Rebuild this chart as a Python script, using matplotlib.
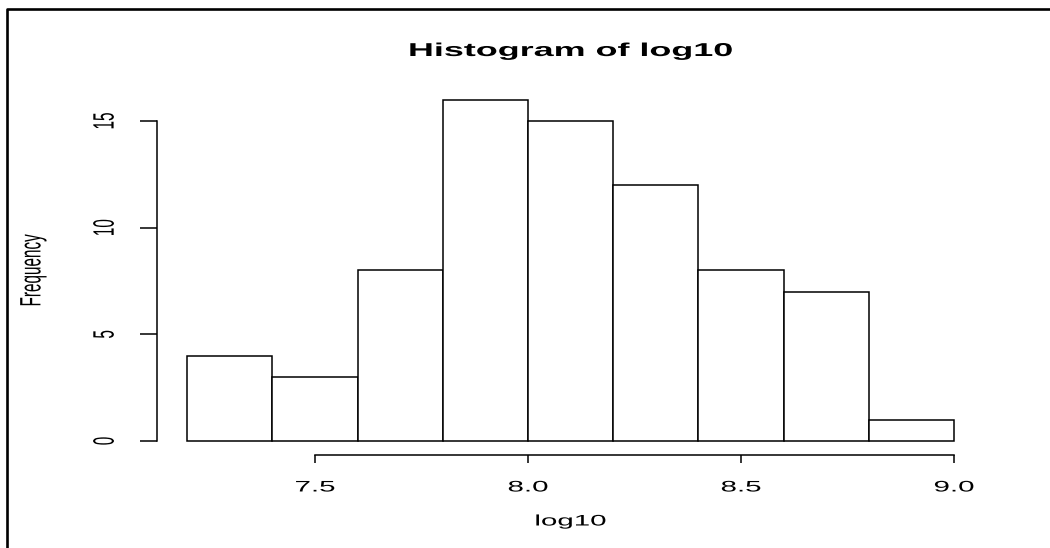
import numpy as np
import matplotlib
matplotlib.use("Agg")
import matplotlib.pyplot as plt
from matplotlib.lines import Line2D
from matplotlib.patheffects import AbstractPathEffect
from matplotlib.transforms import Affine2D

# histogram of log10 values (bin edges and counts)
edges = [7.2, 7.4, 7.6, 7.8, 8.0, 8.2, 8.4, 8.6, 8.8, 9.0]
counts = [4, 3, 8, 16, 15, 12, 8, 7, 1]
xticks = [7.5, 8.0, 8.5, 9.0]
xticklabels = ["7.5", "8.0", "8.5", "9.0"]
yticks = [0, 5, 10, 15]
yticklabels = ["0", "5", "10", "15"]


class Stretch(AbstractPathEffect):
    """Widen glyphs horizontally on screen (the reference is a stretched R plot)."""

    def __init__(self, sx=1.93):
        super().__init__()
        self.sx = sx

    def draw_path(self, renderer, gc, tpath, affine, rgbFace=None):
        ext = tpath.get_extents(affine)
        cx = (ext.x0 + ext.x1) / 2
        aff = affine + Affine2D().translate(-cx, 0).scale(self.sx, 1).translate(cx, 0)
        renderer.draw_path(gc, tpath, aff, rgbFace)


plt.rcParams['font.family'] = ['Liberation Sans', 'DejaVu Sans']
stretch = [Stretch(1.93)]

fig = plt.figure(figsize=(10.5, 5.48), dpi=100)
ax = fig.add_axes([0.14905, 0.17035, 0.78876, 0.67272])

ax.bar(edges[:-1], counts, width=np.diff(edges), align='edge',
       facecolor='white', edgecolor='black', linewidth=1.1)

ax.set_xlim(7.128, 9.072)
ax.set_ylim(-0.64, 16.64)

for side in ['top', 'right']:
    ax.spines[side].set_visible(False)
ax.spines['bottom'].set_bounds(xticks[0], xticks[-1])
ax.spines['left'].set_bounds(yticks[0], yticks[-1])
for side in ['bottom', 'left']:
    ax.spines[side].set_linewidth(1.1)

ax.set_xticks(xticks, xticklabels, fontsize=11)
ax.set_yticks(yticks, yticklabels, fontsize=11)
ax.tick_params(axis='x', length=6.1, width=1.1, pad=12.5)
ax.tick_params(axis='y', length=12.2, width=1.1, pad=20, labelrotation=90)
for lab in ax.get_yticklabels():
    lab.set_va('center')
    lab.set_ha('right')

ax.set_title("Histogram of log10", fontsize=13.4, fontweight='bold', pad=21.6)
ax.set_xlabel("log10", fontsize=11)
ax.set_ylabel("Frequency", fontsize=11)
ax.xaxis.set_label_coords(0.5, -0.1922)
ax.xaxis.label.set_va('baseline')
ax.yaxis.set_label_coords(-0.1491, 0.5)
ax.yaxis.label.set_va('center')

for t in [ax.title, ax.xaxis.label, ax.yaxis.label] + ax.get_xticklabels() + ax.get_yticklabels():
    t.set_path_effects(stretch)

# outer frame of the original device (left and top edges visible)
fx, fy = 6.5 / 1050, 1 - 8.5 / 548
fig.add_artist(Line2D([fx, fx, 1.0], [0.0, fy, fy], transform=fig.transFigure,
                      color='black', linewidth=1.9))

fig.savefig("out.png", dpi=100)
